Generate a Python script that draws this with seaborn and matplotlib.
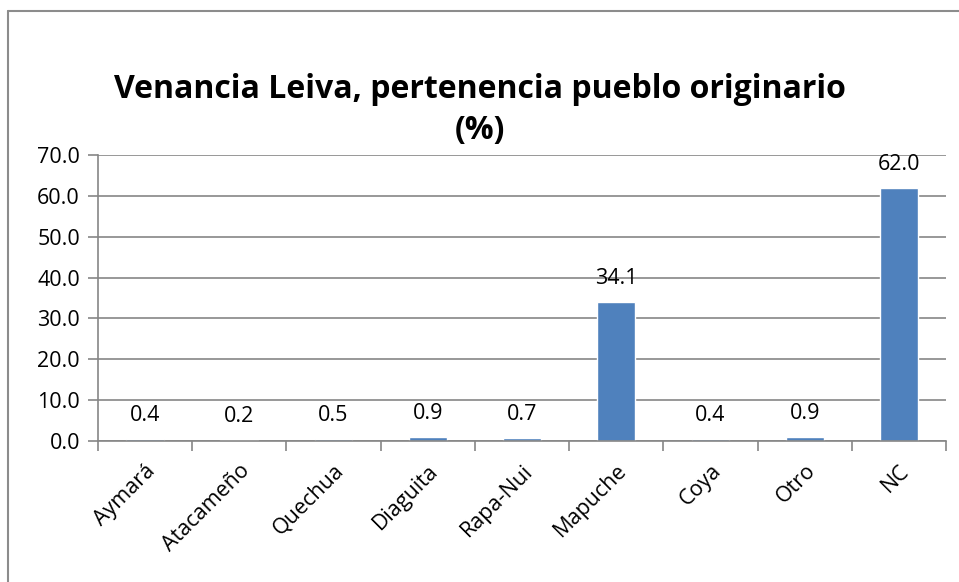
import matplotlib
matplotlib.use('Agg')
import matplotlib.pyplot as plt
import seaborn as sns
import pandas as pd

categories = ['Aymará', 'Atacameño', 'Quechua', 'Diaguita', 'Rapa-Nui',
              'Mapuche', 'Coya', 'Otro', 'NC']
values = [0.4, 0.2, 0.5, 0.9, 0.7, 34.1, 0.4, 0.9, 62.0]
y_ticks = [0, 10, 20, 30, 40, 50, 60, 70]
title = 'Venancia Leiva, pertenencia pueblo originario\n(%)'

df = pd.DataFrame({'pueblo': categories, 'pct': values})

sns.set_style('white')
plt.rcParams['font.family'] = ['Open Sans', 'DejaVu Sans']
plt.rcParams['text.color'] = 'black'
plt.rcParams['xtick.color'] = 'black'
plt.rcParams['ytick.color'] = 'black'

fig = plt.figure(figsize=(9.59, 5.82), dpi=100)
ax = fig.add_axes([98 / 959, 1 - 441 / 582, (946 - 98) / 959, (441 - 155) / 582])

sns.barplot(data=df, x='pueblo', y='pct', color='#4F81BD', width=0.4,
            saturation=1, ax=ax)

grid_c = '#868686'
fs = 15.5
ax.set_ylim(0, 70)
ax.set_xlim(-0.5, len(categories) - 0.5)
ax.set_yticks(y_ticks)
ax.set_yticklabels([f'{v:.1f}' for v in y_ticks], fontsize=fs)
ax.yaxis.grid(True, color=grid_c, linewidth=1.2)
ax.set_axisbelow(True)
ax.tick_params(axis='y', length=7, color=grid_c, labelcolor='black', width=1.2,
               pad=6, left=True)

ax.set_xticks(range(len(categories)))
ax.set_xticklabels(categories, rotation=45, ha='right', rotation_mode='anchor',
                   fontsize=fs)
ax.tick_params(axis='x', which='major', length=0, pad=14, labelcolor='black')
ax.set_xticks([i - 0.5 for i in range(len(categories) + 1)], minor=True)
ax.tick_params(axis='x', which='minor', length=7, color=grid_c, width=1.2,
               bottom=True)

for side in ['top', 'right']:
    ax.spines[side].set_visible(False)
for side in ['left', 'bottom']:
    ax.spines[side].set_color(grid_c)
    ax.spines[side].set_linewidth(1.2)

ax.set_xlabel('')
ax.set_ylabel('')

for i, v in enumerate(values):
    ax.annotate(f'{v:.1f}', (i, v), xytext=(0, 13), textcoords='offset points',
                ha='center', va='baseline', fontsize=fs, color='black')

fig.text(0.5, 1 - 110 / 582, title, ha='center', va='center', color='black',
         fontsize=23, fontweight='bold', linespacing=1.3)

# outer chart border (Excel style, cropped on right/bottom)
fig.add_artist(plt.Line2D([8 / 959, 1], [1 - 11 / 582] * 2,
                          transform=fig.transFigure, color='#8c8c8c', lw=1.5))
fig.add_artist(plt.Line2D([8 / 959] * 2, [0, 1 - 11 / 582],
                          transform=fig.transFigure, color='#8c8c8c', lw=1.5))

fig.savefig('out.png', dpi=100)
